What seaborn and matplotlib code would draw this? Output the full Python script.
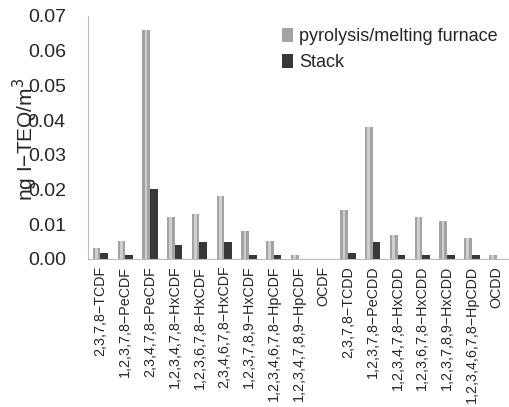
import matplotlib
matplotlib.use("Agg")
import matplotlib.pyplot as plt
import seaborn as sns
import pandas as pd
from matplotlib.patches import Rectangle

categories = [
    "2,3,7,8−TCDF", "1,2,3,7,8−PeCDF", "2,3,4,7,8−PeCDF",
    "1,2,3,4,7,8−HxCDF", "1,2,3,6,7,8−HxCDF", "2,3,4,6,7,8−HxCDF",
    "1,2,3,7,8,9−HxCDF", "1,2,3,4,6,7,8−HpCDF", "1,2,3,4,7,8,9−HpCDF",
    "OCDF", "2,3,7,8−TCDD", "1,2,3,7,8−PeCDD", "1,2,3,4,7,8−HxCDD",
    "1,2,3,6,7,8−HxCDD", "1,2,3,7,8,9−HxCDD", "1,2,3,4,6,7,8−HpCDD", "OCDD",
]
furnace = [0.003, 0.005, 0.066, 0.012, 0.013, 0.018, 0.008, 0.005, 0.001,
           0.0, 0.014, 0.038, 0.007, 0.012, 0.011, 0.006, 0.001]
stack = [0.0018, 0.001, 0.020, 0.004, 0.0048, 0.0048, 0.001, 0.001, 0.0,
         0.0, 0.0018, 0.0048, 0.001, 0.001, 0.001, 0.001, 0.0]
series = ["pyrolysis/melting furnace", "Stack"]
yticks = [0.0, 0.01, 0.02, 0.03, 0.04, 0.05, 0.06, 0.07]

df = pd.DataFrame({
    "cat": categories * 2,
    "val": furnace + stack,
    "series": [series[0]] * len(categories) + [series[1]] * len(categories),
})

sns.set_style("white")
plt.rcParams["font.family"] = ["Liberation Sans", "DejaVu Sans"]

fig = plt.figure(figsize=(5.09, 4.07), dpi=100)
ax = fig.add_axes([0.173, 0.364, 0.827, 0.597])

sns.barplot(data=df, x="cat", y="val", hue="series", order=categories,
            hue_order=series, palette=["#a3a3a3", "#383838"], width=0.62,
            saturation=1, ax=ax, linewidth=0, legend=False)

# cylinder-like highlight on the gray bars
n = len(categories)
for p in ax.patches[:n]:
    h = p.get_height()
    if h > 0:
        x, w = p.get_x(), p.get_width()
        ax.add_patch(Rectangle((x + 0.3 * w, 0), 0.35 * w, h,
                               facecolor="#cfcfcf", linewidth=0, zorder=p.get_zorder() + 0.1))
for p in ax.patches[n:2 * n]:
    p.set_facecolor("#383838")

ax.set_ylim(0, 0.07)
ax.set_xlim(-0.5, 16.4)
ax.set_yticks(yticks)
ax.set_yticklabels([f"{v:.2f}" for v in yticks], fontsize=14)
ax.set_xticks(range(n))
ax.set_xticklabels(categories, rotation=90, fontsize=10.3)
ax.tick_params(axis="x", length=0, pad=5)
ax.tick_params(axis="y", direction="in", length=5, color="#cccccc", pad=16)
ax.set_xticks([i + 0.5 for i in range(-1, n)], minor=True)
ax.tick_params(axis="x", which="minor", direction="in", length=4, color="#bbbbbb")

ax.set_xlabel("")
ax.set_ylabel("ng I−TEQ/m$^3$", fontsize=15)
ax.yaxis.set_label_coords(-0.115, 0.49)

for s in ["top", "right"]:
    ax.spines[s].set_visible(False)
for s in ["left", "bottom"]:
    ax.spines[s].set_color("#bbbbbb")
    ax.spines[s].set_linewidth(0.8)

handles = [Rectangle((0, 0), 1, 1, facecolor="#a3a3a3", linewidth=0),
           Rectangle((0, 0), 1, 1, facecolor="#383838", linewidth=0)]
ax.legend(handles, series, loc="upper left", bbox_to_anchor=(0.443, 0.98),
          frameon=False, fontsize=13, handlelength=0.6, handleheight=0.8,
          handletextpad=0.35, labelspacing=0.5, borderaxespad=0)

fig.savefig("out.png", dpi=100)
